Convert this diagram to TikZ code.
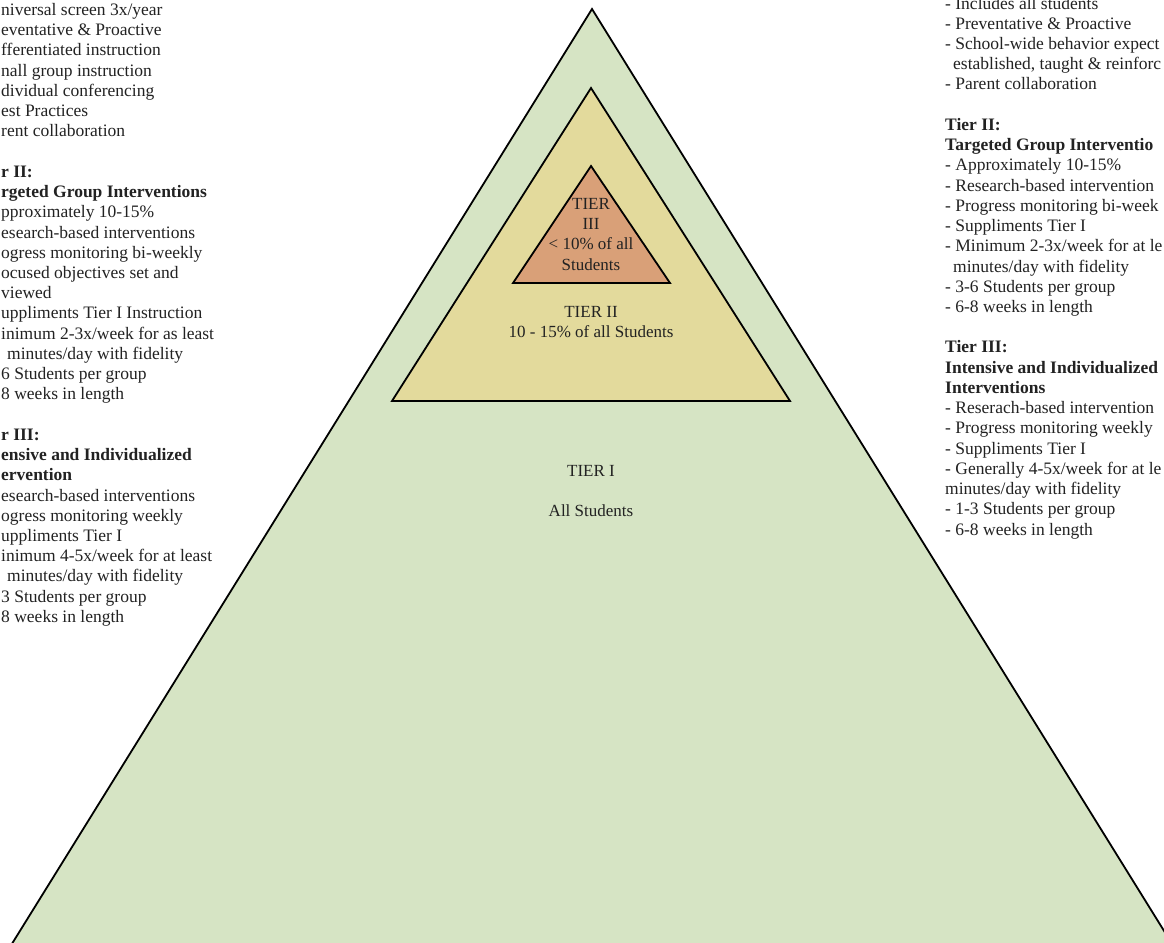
\documentclass[tikz,border=0pt]{standalone}
\usepackage{fontspec}
\setmainfont{Liberation Serif}
\usetikzlibrary{positioning}
\definecolor{green100}{HTML}{D6E4C4}
\definecolor{yellow200}{HTML}{E3DA9C}
\definecolor{orange300}{HTML}{D9A078}
\definecolor{ink}{HTML}{222222}

\begin{document}
\begin{tikzpicture}[x=1pt,y=-1pt]
  % Styles
  \tikzset{
    tier/.style={draw=black, line width=1.8pt, line join=miter},
    tiertext/.style={align=center, text=ink, inner sep=0pt, font=\fontsize{17}{20.23}\selectfont},
    sidenote/.style={align=left, text=ink, inner sep=0pt, font=\fontsize{17.5}{20.23}\selectfont},
  }

  % Frame (page cuts the picture like the original)
  \useasboundingbox (0,0) rectangle (1164,942);
  \clip (0,0) rectangle (1164,942);

  % Pyramid
  \filldraw[tier, fill=green100] (592,9) -- (5,955) -- (1179,955) -- cycle;
  \filldraw[tier, fill=yellow200] (591,88) -- (392,401) -- (790,401) -- cycle;
  \filldraw[tier, fill=orange300] (591,166) -- (513,283) -- (670,283) -- cycle;

  % Tier labels (base = last line)
  \node[tiertext, anchor=base] (tier3) at (591,270.2) {TIER\\ III\\ < 10\% of all\\ Students};
  \node[tiertext, anchor=base] (tier2) at (591,337.7) {TIER II\\ 10 - 15\% of all Students};
  \node[tiertext, anchor=base] (tier1) at (591,516.5) {TIER I\\[20.23pt] All Students};

  % Left notes
  \node[sidenote, anchor=base west] (leftnotes) at (1,622.4) {niversal screen 3x/year\\
    eventative \& Proactive\\
    fferentiated instruction\\
    nall group instruction\\
    dividual conferencing\\
    est Practices\\
    rent collaboration\\[20.23pt]
    \textbf{r II:}\\
    \textbf{rgeted Group Interventions}\\
    pproximately 10-15\%\\
    esearch-based interventions\\
    ogress monitoring bi-weekly\\
    ocused objectives set and\\
    viewed\\
    uppliments Tier I Instruction\\
    inimum 2-3x/week for as least\\
    \hspace*{6pt}minutes/day with fidelity\\
    6 Students per group\\
    8 weeks in length\\[20.23pt]
    \textbf{r III:}\\
    \textbf{ensive and Individualized}\\
    \textbf{ervention}\\
    esearch-based interventions\\
    ogress monitoring weekly\\
    uppliments Tier I\\
    inimum 4-5x/week for at least\\
    \hspace*{6pt}minutes/day with fidelity\\
    3 Students per group\\
    8 weeks in length};

  % Right notes
  \node[sidenote, anchor=base west] (rightnotes) at (945,535) {- Includes all students\\
    - Preventative \& Proactive\\
    - School-wide behavior expect\\
    \hspace*{8pt}established, taught \& reinforc\\
    - Parent collaboration\\[20.23pt]
    \textbf{Tier II:}\\
    \textbf{Targeted Group Interventio}\\
    - Approximately 10-15\%\\
    - Research-based intervention\\
    - Progress monitoring bi-week\\
    - Suppliments Tier I\\
    - Minimum 2-3x/week for at le\\
    \hspace*{8pt}minutes/day with fidelity\\
    - 3-6 Students per group\\
    - 6-8 weeks in length\\[20.23pt]
    \textbf{Tier III:}\\
    \textbf{Intensive and Individualized}\\
    \textbf{Interventions}\\
    - Reserach-based intervention\\
    - Progress monitoring weekly\\
    - Suppliments Tier I\\
    - Generally 4-5x/week for at le\\
    minutes/day with fidelity\\
    - 1-3 Students per group\\
    - 6-8 weeks in length};
\end{tikzpicture}
\end{document}
